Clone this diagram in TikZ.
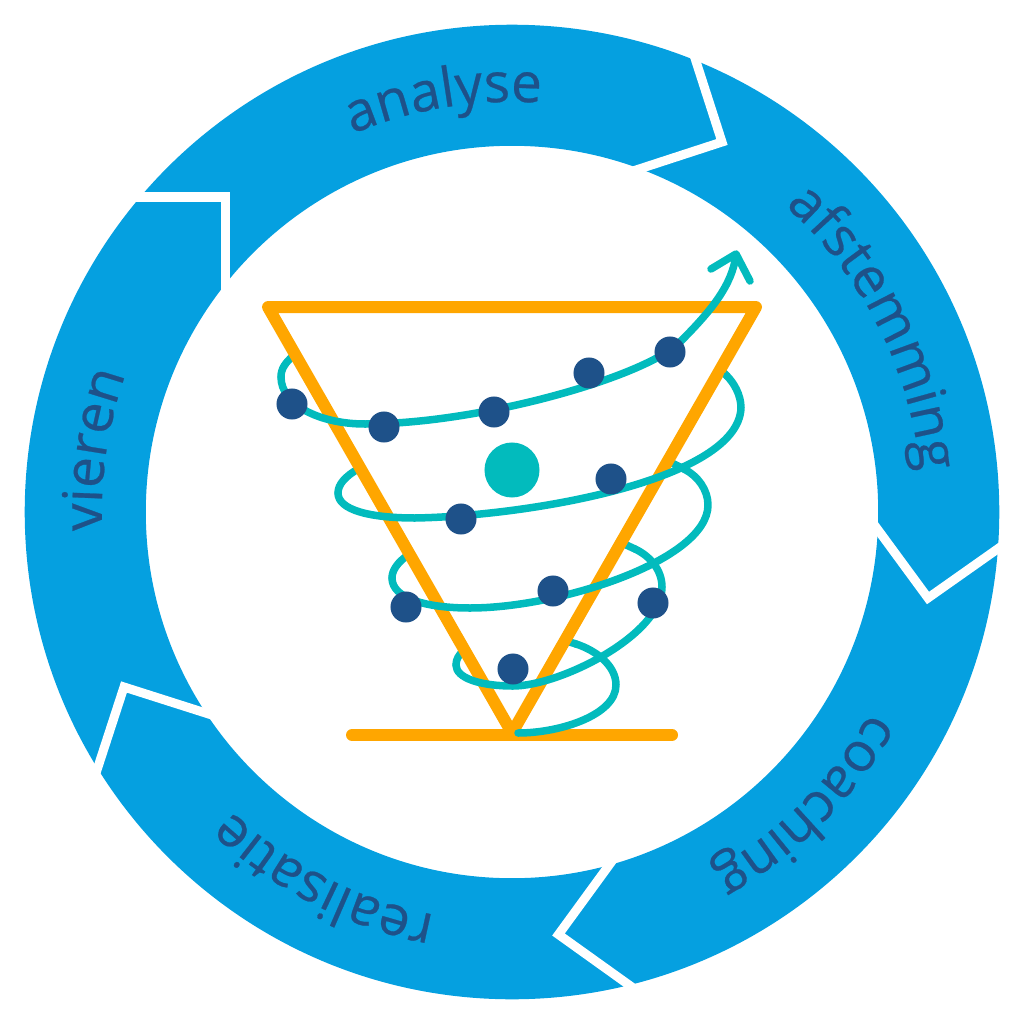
\documentclass[tikz,border=0pt]{standalone}
\usepackage{fontspec}
\setmainfont{Open Sans}
\newfontfamily\ringface[FakeBold=0.45]{Open Sans}
\usepackage{xcolor}
\usepackage{tikz}
\usetikzlibrary{decorations.text}
\definecolor{ringblue}{RGB}{5,160,224}
\definecolor{labelblue}{RGB}{30,81,137}
\definecolor{spiralteal}{RGB}{2,187,189}
\definecolor{funnelorange}{RGB}{255,166,0}
\newcommand{\ringfont}{\ringface\fontsize{15.6}{18}\selectfont}
\tikzset{
  gap/.style={draw=white, line width=0.09cm, miter limit=10},
  funnel/.style={draw=funnelorange, line width=0.12cm, line cap=round, line join=round},
  spiral/.style={draw=spiralteal, line width=0.075cm, line cap=round, line join=round},
  dot/.style={circle, fill=labelblue, inner sep=0pt, minimum size=0.31cm},
  ringlabel/.style={postaction={decorate}, decoration={text along path,
    text={|\ringfont\color{labelblue}|#1}, text align={align=center}}}
}
\begin{document}
\begin{tikzpicture}[x=0.01cm, y=-0.01cm]
\useasboundingbox (0,0) rectangle (1024,1024);
\coordinate (ringc) at (512,512);
% Ring
\fill[ringblue, even odd rule] (ringc) circle[radius=4.87cm] (ringc) circle[radius=3.66cm];
\draw[gap] (693,52) -- (722,142) -- (630,172);
\draw[gap] (870,519) -- (928,598) -- (1006,543);
\draw[gap] (615,857) -- (558.5,934.5) -- (636,990);
\draw[gap] (215,716) -- (124,687) -- (96,773);
\draw[gap] (135,197) -- (225.5,197) -- (225.5,292);
% Labels
\path[ringlabel={analyse}] (ringc) ++(139.4:4.1cm) arc[start angle=139.4, end angle=59.4, radius=4.1cm];
\path[ringlabel={afstemming}] (ringc) ++(67:4.1cm) arc[start angle=67, end angle=-13, radius=4.1cm];
\path[ringlabel={coaching}] (ringc) ++(-5:4.1cm) arc[start angle=-5, end angle=-85, radius=4.1cm];
\path[ringlabel={realisatie}] (ringc) ++(-77:4.1cm) arc[start angle=-77, end angle=-157, radius=4.1cm];
\path[ringlabel={vieren}] (ringc) ++(211.5:4.1cm) arc[start angle=211.5, end angle=131.5, radius=4.1cm];
% Back ends of the spiral
\draw[spiral] (576,644) -- (565,640.5);
\draw[spiral] (456,665) .. controls (456,659) and (459,655) .. (463,651);
\draw[spiral] (635,549) -- (622,543);
\draw[spiral] (392,578) .. controls (392,570) and (398,562) .. (408,555);
\draw[spiral] (684,469) -- (670,462);
\draw[spiral] (338,493) .. controls (338,484) and (346,476) .. (358,469);
\draw[spiral] (727,376) -- (720,369);
\draw[spiral] (281,377) .. controls (281,369) and (285,363) .. (293,356);
% Funnel
\coordinate (tipl) at (268,307);
\coordinate (tipr) at (756,307);
\coordinate (apex) at (512,733);
\draw[funnel] (apex) -- (tipl) -- (tipr) -- cycle;
\coordinate (basel) at (352,735);
\coordinate (baser) at (672,735);
\draw[funnel] (basel) -- (baser);
% Front of the spiral
\draw[spiral] (518,733) .. controls (560,733) and (616,715) .. (616,685) .. controls (616,665) and (595,650) .. (576,644);
\draw[spiral] (456,665) .. controls (456,678) and (480,686) .. (513,686) .. controls (560,686) and (662,635) .. (662,587) .. controls (662,570) and (650,556) .. (635,549);
\draw[spiral] (392,578) .. controls (392,598) and (425,608) .. (470,608) .. controls (560,608) and (708,560) .. (708,505) .. controls (708,490) and (698,476) .. (684,469);
\draw[spiral] (338,493) .. controls (338,510) and (370,518) .. (415,518) .. controls (530,516) and (738,480) .. (741,408) .. controls (741,394) and (733,382) .. (727,376);
\draw[spiral] (281,377) .. controls (281,405) and (320,424) .. (365,424) .. controls (480,424) and (645,377) .. (680,342) .. controls (712,310) and (732,285) .. (736,255);
\coordinate (arrowl) at (711,269);
\coordinate (arrowt) at (736,254);
\coordinate (arrowr) at (750,281);
\draw[spiral] (arrowl) -- (arrowt) -- (arrowr);
% Dots
\node[circle, fill=spiralteal, inner sep=0pt, minimum size=0.55cm] (core) at (512,470) {};
\node[dot] (d1) at (292,404) {};
\node[dot] (d2) at (384,427) {};
\node[dot] (d3) at (494,412) {};
\node[dot] (d4) at (589,373) {};
\node[dot] (d5) at (670,352) {};
\node[dot] (d6) at (611,479) {};
\node[dot] (d7) at (461,519) {};
\node[dot] (d8) at (406,607) {};
\node[dot] (d9) at (553,591) {};
\node[dot] (d10) at (653,603) {};
\node[dot] (d11) at (513,669) {};
\end{tikzpicture}
\end{document}
